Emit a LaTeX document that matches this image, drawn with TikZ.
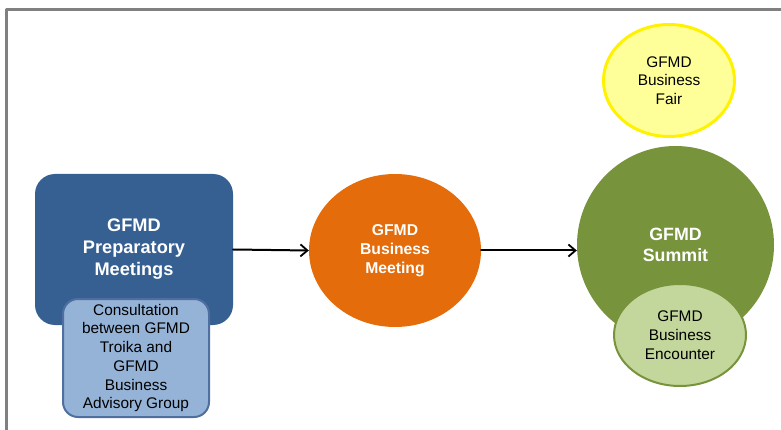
\documentclass[tikz,border=0pt]{standalone}
\usepackage{fontspec}
\setmainfont{Liberation Sans}
\usetikzlibrary{shapes.geometric,arrows.meta}
\definecolor{prepblue}{RGB}{54,96,146}
\definecolor{consfill}{RGB}{149,179,215}
\definecolor{consline}{RGB}{79,111,160}
\definecolor{meetorange}{RGB}{228,108,10}
\definecolor{summitgreen}{RGB}{119,147,60}
\definecolor{encfill}{RGB}{195,214,155}
\definecolor{fairfill}{RGB}{255,255,153}
\definecolor{frameline}{RGB}{128,128,128}
\begin{document}
\begin{tikzpicture}[x=1pt, y=-1pt, line join=round, line cap=round,
	>={Straight Barb[length=7pt,width=12pt,line width=1.8pt]},
	bigtext/.style={text=white, font=\bfseries\fontsize{18.2}{22}\selectfont, align=center},
	smalltext/.style={text=black, font=\fontsize{15.4}{18.7}\selectfont, align=center},
	oval/.style={ellipse, inner sep=0pt}]
	\useasboundingbox (0,0) rectangle (781,430);
	\draw[frameline, line width=3pt, line cap=butt] (6.5,440) |- (790,9.5);
	% preparatory meetings
	\node[bigtext, fill=prepblue, rounded corners=20pt, minimum width=198pt, minimum height=151pt, inner sep=0pt] (prep) at (134,249.5) {GFMD\\Preparatory\\Meetings};
	\node[smalltext, fill=consfill, draw=consline, line width=2pt, rounded corners=15pt, minimum width=146pt, minimum height=118pt, inner sep=0pt] (cons) at (136,358) {Consultation\\between GFMD\\Troika and\\GFMD\\Business\\Advisory Group};
	% business meeting
	\node[oval, bigtext, font=\bfseries\fontsize{15.7}{18.8}\selectfont, fill=meetorange, minimum width=172pt, minimum height=153pt] (meet) at (395,250.5) {GFMD\\Business\\Meeting};
	% summit
	\node[oval, bigtext, font=\bfseries\fontsize{17.8}{21.5}\selectfont, fill=summitgreen, minimum width=197pt, minimum height=198pt] (summit) at (675.5,245) {GFMD\\Summit};
	\node[oval, smalltext, fill=encfill, draw=summitgreen, line width=2pt, minimum width=132pt, minimum height=102pt] (enc) at (680,335) {GFMD\\Business\\Encounter};
	\node[oval, smalltext, fill=fairfill, draw=yellow, line width=3pt, minimum width=131pt, minimum height=112pt] (fair) at (669,80.5) {GFMD\\Business\\Fair};
	% arrows
	\draw[->, line width=2pt] (prep.east) -- (meet.west);
	\draw[->, line width=2pt] (meet.east) -- (summit.west |- meet.east);
\end{tikzpicture}
\end{document}
